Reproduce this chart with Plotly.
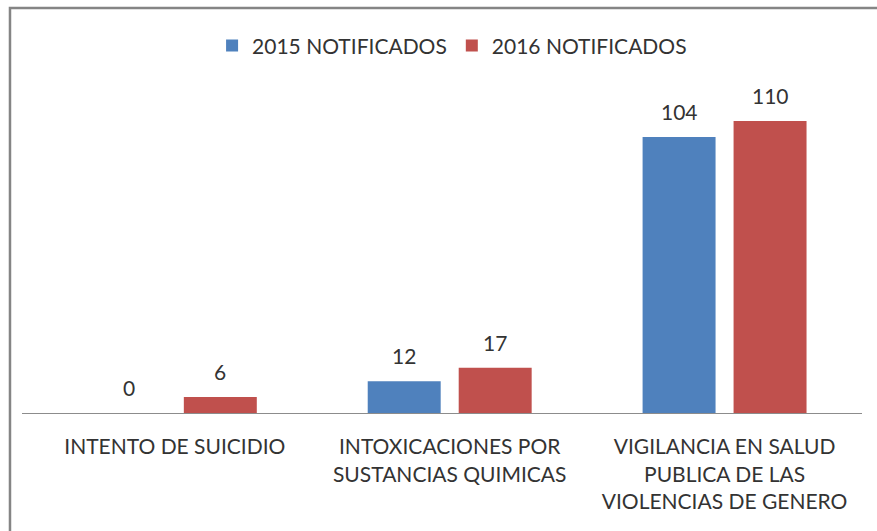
import plotly.graph_objects as go

categories = ["INTENTO DE SUICIDIO",
              "INTOXICACIONES POR<br>SUSTANCIAS QUIMICAS",
              "VIGILANCIA EN SALUD<br>PUBLICA DE LAS<br>VIOLENCIAS DE GENERO"]
cat_ids = ["c1", "c2", "c3"]
series_names = ["2015 NOTIFICADOS", "2016 NOTIFICADOS"]
values_2015 = [0, 12, 104]
values_2016 = [6, 17, 110]
colors = ["#4F81BD", "#C0504D"]

FONT = "Lato"
TXT = "#333333"

fig = go.Figure()
fig.add_trace(go.Bar(x=cat_ids, y=values_2015, name=series_names[0],
                     marker=dict(color=colors[0], line=dict(width=0))))
fig.add_trace(go.Bar(x=cat_ids, y=values_2016, name=series_names[1],
                     marker=dict(color=colors[1], line=dict(width=0))))

annotations = []
for vals, shift in ((values_2015, -45.5), (values_2016, 45.5)):
    for c, v in zip(cat_ids, vals):
        annotations.append(dict(x=c, y=v, xref="x", yref="y", text=str(v),
                                showarrow=False, xshift=shift, yshift=11,
                                yanchor="bottom",
                                font=dict(family=FONT, size=21, color=TXT)))

fig.update_layout(
    width=877, height=531,
    margin=dict(l=22, r=15, t=100, b=118),
    paper_bgcolor="white", plot_bgcolor="white",
    barmode="group", bargap=0.338, bargroupgap=0.198,
    showlegend=True,
    legend=dict(orientation="h", x=0.512, xanchor="center", y=1.173, yanchor="middle",
                font=dict(family=FONT, size=21, color=TXT), itemwidth=30,
                traceorder="normal", itemsizing="constant"),
    xaxis=dict(type="category", range=[-0.556, 2.5],
               tickmode="array", tickvals=cat_ids, ticktext=categories,
               showline=True, linecolor="#8C8C8C", linewidth=1,
               ticks="outside", ticklen=15, tickcolor="rgba(0,0,0,0)",
               tickfont=dict(family=FONT, size=21, color=TXT),
               showgrid=False, zeroline=False, fixedrange=True),
    yaxis=dict(range=[0, 117.9], visible=False, showgrid=False, zeroline=False),
    annotations=annotations,
    shapes=[dict(type="rect", xref="paper", yref="paper",
                 x0=-0.0143, x1=1.2, y0=-1, y1=1.294,
                 line=dict(color="#858585", width=2.5), layer="above")],
)

fig.write_html("out.html", config={"displayModeBar": False},
               post_script="document.body.style.margin='0';document.body.style.overflow='hidden';")
